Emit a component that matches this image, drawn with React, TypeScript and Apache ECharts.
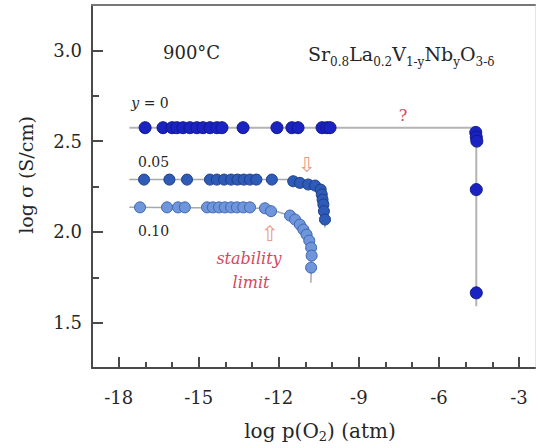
import React, { useEffect, useRef } from "react";
import * as echarts from "echarts";

// ---- data ----
const xMajorTicks = [-18, -15, -12, -9, -6, -3];
const xMinorTicks = [-19, -17, -16, -14, -13, -11, -10, -8, -7, -5, -4];
const yMajorTicks = [1.5, 2.0, 2.5, 3.0];
const yMinorTicks = [1.75, 2.25, 2.75];

// y = 0
const y0X = [-17.01, -16.34, -16.0, -15.82, -15.59, -15.33, -15.07, -14.84, -14.58, -14.32, -14.13, -13.34, -12.07, -11.51, -11.28, -10.38, -10.2, -10.08, -4.62, -4.6, -4.58, -4.6, -4.6];
const y0Y = [2.574, 2.574, 2.574, 2.574, 2.574, 2.574, 2.574, 2.574, 2.574, 2.574, 2.574, 2.574, 2.574, 2.574, 2.574, 2.574, 2.574, 2.574, 2.548, 2.522, 2.5, 2.233, 1.664];
// y = 0.05
const y05X = [-17.05, -16.1, -15.44, -14.58, -14.32, -14.05, -13.79, -13.55, -13.31, -13.08, -12.84, -12.26, -11.46, -11.21, -10.9, -10.64, -10.43, -10.39, -10.36, -10.33, -10.31, -10.27];
const y05Y = [2.288, 2.288, 2.288, 2.288, 2.288, 2.288, 2.288, 2.288, 2.288, 2.288, 2.288, 2.288, 2.279, 2.27, 2.261, 2.255, 2.233, 2.206, 2.178, 2.151, 2.114, 2.068];
// y = 0.10
const y10X = [-17.2, -16.19, -15.78, -15.52, -14.69, -14.47, -14.24, -14.02, -13.79, -13.57, -13.33, -13.08, -12.52, -12.29, -11.58, -11.39, -11.21, -11.08, -10.96, -10.86, -10.79, -10.77, -10.79];
const y10Y = [2.135, 2.135, 2.135, 2.135, 2.135, 2.135, 2.135, 2.135, 2.135, 2.135, 2.135, 2.135, 2.13, 2.114, 2.09, 2.068, 2.04, 2.013, 1.985, 1.952, 1.913, 1.869, 1.803];

// guide lines drawn through the data
const fit0X = [-17.6, -4.6, -4.6];
const fit0Y = [2.574, 2.574, 1.59];
const fit05X = [-17.6, -11.6, -11.0, -10.55, -10.4, -10.32, -10.27];
const fit05Y = [2.288, 2.288, 2.268, 2.25, 2.2, 2.1, 2.024];
const fit10X = [-17.6, -12.5, -12.2, -11.6, -11.1, -10.85, -10.78, -10.8];
const fit10Y = [2.135, 2.13, 2.118, 2.09, 2.013, 1.92, 1.8, 1.72];

const zip = (xs: number[], ys: number[]) => xs.map((x, i) => [x, ys[i]]);

const SERIF = "DejaVu Serif";
const INK = "#262626";

export default function App() {
  const ref = useRef<HTMLDivElement>(null);
  useEffect(() => {
    if (!ref.current) return;
    const chart = echarts.init(ref.current, null, { renderer: "svg" });
    const axisColor = "#4a4a4a";
    const labelStyle = { fontFamily: SERIF, fontSize: 18, color: INK };
    const option: any = {
      animation: false,
      backgroundColor: "#fff",
      grid: { left: 92, top: 5, width: 443, height: 363, show: false },
      xAxis: [
        {
          type: "value", min: -19, max: -2.4, position: "bottom", offset: 0,
          axisLine: { show: true, onZero: false, lineStyle: { color: axisColor, width: 2 } },
          axisTick: { show: true, inside: true, length: 11, customValues: xMajorTicks, lineStyle: { color: axisColor, width: 2 } },
          axisLabel: { show: true, customValues: xMajorTicks, margin: 20, ...labelStyle },
          splitLine: { show: false },
        },
        {
          type: "value", min: -19, max: -2.4, position: "bottom", offset: 0,
          axisLine: { show: false },
          axisTick: { show: true, inside: true, length: 6, customValues: xMinorTicks, lineStyle: { color: axisColor, width: 2 } },
          axisLabel: { show: false },
          splitLine: { show: false },
        },
        {
          type: "value", min: -19, max: -2.4, position: "top", offset: 0,
          axisLine: { show: true, onZero: false, lineStyle: { color: "#777", width: 2 } },
          axisTick: { show: false }, axisLabel: { show: false }, splitLine: { show: false },
        },
      ],
      yAxis: [
        {
          type: "value", min: 1.25, max: 3.25, position: "left", offset: 0,
          axisLine: { show: true, onZero: false, lineStyle: { color: axisColor, width: 2 } },
          axisTick: { show: true, inside: true, length: 11, customValues: yMajorTicks, lineStyle: { color: axisColor, width: 2 } },
          axisLabel: { show: true, customValues: yMajorTicks, margin: 10, formatter: (v: number) => v.toFixed(1), ...labelStyle },
          splitLine: { show: false },
        },
        {
          type: "value", min: 1.25, max: 3.25, position: "left", offset: 0,
          axisLine: { show: false },
          axisTick: { show: true, inside: true, length: 7, customValues: yMinorTicks, lineStyle: { color: axisColor, width: 2 } },
          axisLabel: { show: false }, splitLine: { show: false },
        },
        {
          type: "value", min: 1.25, max: 3.25, position: "right", offset: 0,
          axisLine: { show: true, onZero: false, lineStyle: { color: "#e4e4e4", width: 1 } },
          axisTick: { show: false }, axisLabel: { show: false }, splitLine: { show: false },
        },
      ],
      series: [
        { type: "line", data: zip(fit0X, fit0Y), showSymbol: false, symbol: "none", lineStyle: { color: "#b4b4b4", width: 2 }, z: 1 },
        { type: "line", data: zip(fit05X, fit05Y), showSymbol: false, symbol: "none", lineStyle: { color: "#a8a8a8", width: 1.5 }, z: 1 },
        { type: "line", data: zip(fit10X, fit10Y), showSymbol: false, symbol: "none", lineStyle: { color: "#a8a8a8", width: 1.5 }, z: 1 },
        {
          name: "y = 0", type: "scatter", data: zip(y0X, y0Y), symbol: "circle", symbolSize: 12,
          itemStyle: { color: "#1a22c2", borderColor: "#10188a", borderWidth: 1, opacity: 1 }, z: 3,
        },
        {
          name: "0.05", type: "scatter", data: zip(y05X, y05Y), symbol: "circle", symbolSize: 11,
          itemStyle: { color: "#2f5bb8", borderColor: "#1d3d86", borderWidth: 1, opacity: 1 }, z: 3,
        },
        {
          name: "0.10", type: "scatter", data: zip(y10X, y10Y), symbol: "circle", symbolSize: 11,
          itemStyle: { color: "#6f95da", borderColor: "#3d66b2", borderWidth: 1, opacity: 1 }, z: 3,
        },
      ],
      graphic: [
        {
          type: "text", x: 163, y: 52,
          style: { text: "900°C", font: `18px "${SERIF}"`, fill: INK, verticalAlign: "middle", align: "left" },
        },
        {
          type: "text", x: 308, y: 54,
          style: {
            text: "Sr{s|0.8}La{s|0.2}V{s|1-y}Nb{s|y}O{s|3-δ}",
            font: `19px "${SERIF}"`, fill: INK, verticalAlign: "middle", align: "left",
            rich: {
              s: { fontFamily: SERIF, fontSize: 12, fill: INK, lineHeight: 15, verticalAlign: "bottom" },
            },
            lineHeight: 28,
          },
        },
        {
          type: "text", x: 150, y: 103,
          style: {
            text: "{i|y} = 0", font: `14px "${SERIF}"`, fill: INK, align: "center", verticalAlign: "middle",
            rich: { i: { fontFamily: SERIF, fontSize: 14, fontStyle: "italic", fill: INK } },
          },
        },
        {
          type: "text", x: 138, y: 162,
          style: { text: "0.05", font: `14px "${SERIF}"`, fill: INK, align: "left", verticalAlign: "middle" },
        },
        {
          type: "text", x: 138, y: 231,
          style: { text: "0.10", font: `14px "${SERIF}"`, fill: INK, align: "left", verticalAlign: "middle" },
        },
        {
          type: "text", x: 403, y: 115,
          style: { text: "?", font: `16px "${SERIF}"`, fill: "#d8475e", align: "center", verticalAlign: "middle" },
        },
        {
          type: "text", x: 307, y: 165,
          style: { text: "⇩", font: `21px "DejaVu Sans"`, fill: "#eb9a84", align: "center", verticalAlign: "middle" },
        },
        {
          type: "text", x: 270, y: 234,
          style: { text: "⇧", font: `21px "DejaVu Sans"`, fill: "#eb9a84", align: "center", verticalAlign: "middle" },
        },
        {
          type: "text", x: 249, y: 258,
          style: { text: "stability", font: `italic 16px "${SERIF}"`, fill: "#d8475e", align: "center", verticalAlign: "middle" },
        },
        {
          type: "text", x: 251, y: 282,
          style: { text: "limit", font: `italic 16px "${SERIF}"`, fill: "#d8475e", align: "center", verticalAlign: "middle" },
        },
        {
          type: "text", x: 320, y: 431,
          style: {
            text: "log p(O{s|2}) (atm)", font: `20px "${SERIF}"`, fill: INK, align: "center", verticalAlign: "middle",
            rich: { s: { fontFamily: SERIF, fontSize: 13, fill: INK, lineHeight: 15, verticalAlign: "bottom" } },
            lineHeight: 24,
          },
        },
        {
          type: "text", x: 26, y: 175, rotation: Math.PI / 2,
          style: { text: "log σ (S/cm)", font: `19px "${SERIF}"`, fill: INK, align: "center", verticalAlign: "middle" },
        },
      ],
    };
    chart.setOption(option);
    return () => chart.dispose();
  }, []);
  return (
    <div
      ref={ref}
      style={{ position: "absolute", left: 0, top: 0, width: 538, height: 448, background: "#fff" }}
    />
  );
}
